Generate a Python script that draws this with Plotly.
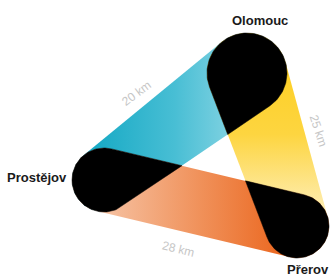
import numpy as np
import plotly.graph_objects as go

# ---- data ----
cities = ["Olomouc", "Prostějov", "Přerov"]
city_x = [247, 104, 297]          # schematic node positions
city_y = [73, 180, 226]
route_from = ["Prostějov", "Olomouc", "Prostějov"]
route_to = ["Olomouc", "Přerov", "Přerov"]
route_km = [20, 25, 28]

# ---- style ----
W, H = 331, 278
node_radius = {"Olomouc": 40, "Prostějov": 32, "Přerov": 32}
band_fill = [
    dict(type="horizontal", start=80, stop=290,
         colorscale=[[0, "#10a7c3"], [0.45, "#48bed4"], [1, "#b9e6ef"]]),
    dict(type="vertical", start=60, stop=225,
         colorscale=[[0, "#fdcf22"], [0.45, "#fdd540"], [1, "#fef2c8"]]),
    dict(type="horizontal", start=100, stop=300,
         colorscale=[[0, "#f6c3a4"], [0.5, "#f0915a"], [1, "#ea5f14"]]),
]
label_t = [0.44, 0.48, 0.445]      # position along band
label_off = 50                      # outward offset (px)
city_shift = {"Olomouc": (13, 53, "center"), "Prostějov": (-35, 3, "right"),
              "Přerov": (11, -43, "center")}

pos = {c: (x, y) for c, x, y in zip(cities, city_x, city_y)}


def cross(o, a, b):
    return (a[0] - o[0]) * (b[1] - o[1]) - (a[1] - o[1]) * (b[0] - o[0])


def circle_pts(c, r, n=160):
    t = np.linspace(0, 2 * np.pi, n, endpoint=False)
    return [(c[0] + r * np.cos(a), c[1] + r * np.sin(a)) for a in t]


def hull(points):
    pts = sorted(set(points))
    lower, upper = [], []
    for p in pts:
        while len(lower) >= 2 and cross(lower[-2], lower[-1], p) <= 0:
            lower.pop()
        lower.append(p)
    for p in reversed(pts):
        while len(upper) >= 2 and cross(upper[-2], upper[-1], p) <= 0:
            upper.pop()
        upper.append(p)
    return lower[:-1] + upper[:-1]


def inter(p1, p2, a, b):
    d1, d2 = cross(a, b, p1), cross(a, b, p2)
    t = d1 / (d1 - d2)
    return (p1[0] + t * (p2[0] - p1[0]), p1[1] + t * (p2[1] - p1[1]))


def clip(subject, clipper):
    out = subject
    for i in range(len(clipper)):
        a, b = clipper[i], clipper[(i + 1) % len(clipper)]
        inp, out = out, []
        if not inp:
            break
        s = inp[-1]
        for e in inp:
            ein, sin_ = cross(a, b, e) >= 0, cross(a, b, s) >= 0
            if ein:
                if not sin_:
                    out.append(inter(s, e, a, b))
                out.append(e)
            elif sin_:
                out.append(inter(s, e, a, b))
            s = e
    return out


bands = []
for f, t in zip(route_from, route_to):
    pts = circle_pts(pos[f], node_radius[f]) + circle_pts(pos[t], node_radius[t])
    bands.append(hull(pts))

fig = go.Figure()
for poly, fg in zip(bands, band_fill):
    xs = [p[0] for p in poly] + [poly[0][0]]
    ys = [p[1] for p in poly] + [poly[0][1]]
    fig.add_trace(go.Scatter(x=xs, y=ys, fill="toself", mode="lines",
                             line=dict(width=0), fillgradient=fg,
                             hoverinfo="skip", showlegend=False))

for i in range(len(bands)):
    for j in range(i + 1, len(bands)):
        ov = clip(bands[i], bands[j])
        if len(ov) < 3:
            continue
        xs = [p[0] for p in ov] + [ov[0][0]]
        ys = [p[1] for p in ov] + [ov[0][1]]
        fig.add_trace(go.Scatter(x=xs, y=ys, fill="toself", mode="lines",
                                 line=dict(width=0.5, color="black"),
                                 fillcolor="black", hoverinfo="skip",
                                 showlegend=False))

annotations = []
cx, cy = np.mean(city_x), np.mean(city_y)
for k, (f, t, km) in enumerate(zip(route_from, route_to, route_km)):
    (x1, y1), (x2, y2) = pos[f], pos[t]
    dx, dy = x2 - x1, y2 - y1
    L = np.hypot(dx, dy)
    nx, ny = -dy / L, dx / L
    mx, my = x1 + label_t[k] * dx, y1 + label_t[k] * dy
    if (mx - cx) * nx + (my - cy) * ny < 0:
        nx, ny = -nx, -ny
    ang = np.degrees(np.arctan2(dy, dx))
    if ang > 90:
        ang -= 180
    if ang < -90:
        ang += 180
    annotations.append(dict(x=mx + label_off * nx, y=my + label_off * ny,
                            text=f"{km} km", showarrow=False, textangle=ang,
                            font=dict(family="Liberation Sans, Arial", size=12,
                                      color="#c6c6c6")))

for c in cities:
    sx, sy, al = city_shift[c]
    annotations.append(dict(x=pos[c][0], y=pos[c][1], text=f"<b>{c}</b>",
                            showarrow=False, xshift=sx, yshift=sy,
                            xanchor=al,
                            font=dict(family="Liberation Sans, Arial", size=13,
                                      color="#1a1a1a")))

fig.update_layout(
    width=W, height=H, autosize=False,
    margin=dict(l=0, r=0, t=0, b=0),
    paper_bgcolor="white", plot_bgcolor="white",
    xaxis=dict(range=[0, W], visible=False, fixedrange=True),
    yaxis=dict(range=[H, 0], visible=False, fixedrange=True),
    annotations=annotations,
)
fig.write_html(
    "out.html", config={"displayModeBar": False},
    post_script="document.body.style.margin='0';"
                "document.documentElement.style.overflow='hidden';",
)
